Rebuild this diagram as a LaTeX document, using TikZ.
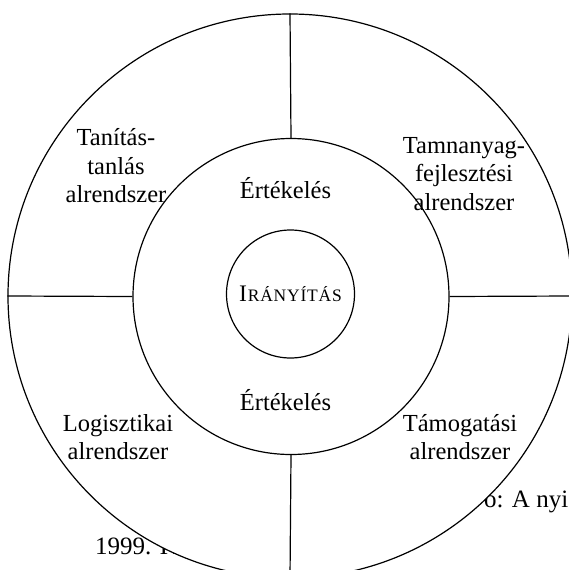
\documentclass[tikz,border=0pt]{standalone}
\usepackage{fontspec}
\setmainfont{Liberation Serif}
\begin{document}
\begin{tikzpicture}[x=1pt,y=-1pt,
    ring/.style={draw,circle,inner sep=0pt,line width=1.2pt},
    part/.style={align=center,font=\fontsize{24.5}{28.5}\selectfont},
    frag/.style={anchor=base west,inner sep=0pt,font=\fontsize{25}{30}\selectfont}]
    \useasboundingbox (0,0) rectangle (569,570);
    \clip (0,0) rectangle (569,570);
    % caption remains behind the wheel
    \node[frag] (capright) at (484,507) {o: A nyi};
    \node[frag] (capleft) at (95,554) {1999. K};
    \node[ring,fill=white,minimum size=564pt] (outer) at (290,296) {};
    \node[ring,minimum size=316pt] (middle) at (291,296.5) {};
    \node[ring,minimum size=128pt,font=\fontsize{23.7}{28}\selectfont] (inner) at (290.5,294)
        {I\kern0.8pt{\fontsize{17.5}{20}\selectfont R\kern0.8pt Á\kern0.8pt N\kern0.8pt Y\kern0.8pt Í\kern0.8pt T\kern0.8pt Á\kern0.8pt S}};
    \draw[line width=1.2pt] (outer.north) -- (middle.north);
    \draw[line width=1.2pt] (outer.south) -- (middle.south);
    \draw[line width=1.2pt] (outer.west) -- (middle.west);
    \draw[line width=1.2pt] (outer.east) -- (middle.east);
    \node[part] (tanitas) at (116,166) {Tanítás-\\tanlás\\alrendszer};
    \node[part] (tananyag) at (464,174) {Tamnanyag-\\fejlesztési\\alrendszer};
    \node[part] (logiszt) at (118,437) {Logisztikai\\alrendszer};
    \node[part] (tamogat) at (460,437) {Támogatási\\alrendszer};
    \node[part] (ertektop) at (285.5,188) {Értékelés};
    \node[part] (ertekbot) at (285.5,400) {Értékelés};
\end{tikzpicture}
\end{document}
